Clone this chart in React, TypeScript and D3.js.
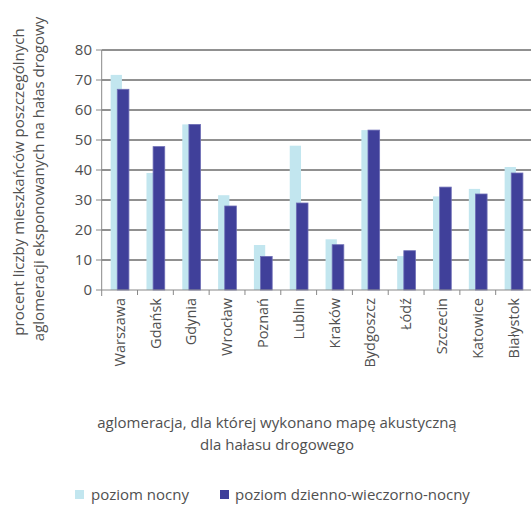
import React from 'react';
import * as d3 from 'd3';

const cities = ['Warszawa', 'Gdańsk', 'Gdynia', 'Wrocław', 'Poznań', 'Lublin', 'Kraków', 'Bydgoszcz', 'Łódź', 'Szczecin', 'Katowice', 'Białystok'];
const nightValues = [71.7, 39.0, 55.2, 31.6, 15.0, 48.1, 16.9, 53.3, 11.3, 31.2, 33.7, 41.0];
const denValues = [66.9, 47.8, 55.2, 28.0, 11.2, 29.0, 15.1, 53.3, 13.1, 34.3, 32.0, 39.0];
const yTicks = [0, 10, 20, 30, 40, 50, 60, 70, 80];

const W = 531;
const H = 505;
const font = '"Open Sans", "DejaVu Sans", sans-serif';
const lightColor = '#c2e6ef';
const darkColor = '#40409a';
const textColor = '#505050';

export default function App() {
  const x = d3.scaleBand<string>().domain(cities).range([101.7, 531.5]).padding(0);
  const y = d3.scaleLinear().domain([0, 80]).range([290, 50]);
  const bw = x.bandwidth();

  return (
    <svg width={W} height={H} style={{ position: 'absolute', left: 0, top: 0 }} fontFamily={font}>
      <rect width={W} height={H} fill="#fff" />

      {/* gridlines */}
      {yTicks.filter((t) => t > 0).map((t) => (
        <line key={t} x1={101.7} x2={W} y1={y(t)} y2={y(t)} stroke="#222" strokeWidth={1} />
      ))}

      {/* bars, night level sits behind */}
      {cities.map((c, i) => {
        const x0 = x(c)!;
        return (
          <g key={c}>
            <rect x={x0 + 0.25 * bw} width={0.315 * bw} y={y(nightValues[i])} height={y(0) - y(nightValues[i])} fill={lightColor} />
            <rect
              x={x0 + 0.435 * bw}
              width={0.325 * bw}
              y={y(denValues[i])}
              height={y(0) - y(denValues[i])}
              fill={darkColor}
              stroke="#6f6fb6"
              strokeWidth={0.8}
            />
          </g>
        );
      })}

      {/* axes */}
      <line x1={101.7} x2={W} y1={290} y2={290} stroke="#888" />
      <line x1={101.7} x2={101.7} y1={50} y2={296} stroke="#888" />
      {yTicks.map((t) => (
        <g key={t}>
          <line x1={96} x2={101.7} y1={y(t)} y2={y(t)} stroke="#888" />
          <text x={92} y={y(t)} dy="0.35em" textAnchor="end" fontSize={15} fill={textColor}>
            {t}
          </text>
        </g>
      ))}
      {cities.map((c) => (
        <g key={c}>
          <line x1={x(c)! + bw} x2={x(c)! + bw} y1={290} y2={295} stroke="#888" />
          <text
            transform={`translate(${x(c)! + bw / 2},298) rotate(-90)`}
            dy="0.35em"
            textAnchor="end"
            fontSize={14.5}
            fill={textColor}
          >
            {c}
          </text>
        </g>
      ))}

      {/* y title */}
      <text transform="translate(19,182) rotate(-90)" textAnchor="middle" dy="0.35em" fontSize={15} fill={textColor}>
        procent liczby mieszkańców poszczególnych
      </text>
      <text transform="translate(39,179) rotate(-90)" textAnchor="middle" dy="0.35em" fontSize={15} fill={textColor}>
        aglomeracji eksponowanych na hałas drogowy
      </text>

      {/* x title */}
      <text x={277} y={428} textAnchor="middle" fontSize={15} fill={textColor}>
        aglomeracja, dla której wykonano mapę akustyczną
      </text>
      <text x={277} y={450} textAnchor="middle" fontSize={15} fill={textColor}>
        dla hałasu drogowego
      </text>

      {/* legend */}
      <rect x={75} y={490} width={9} height={9} fill={lightColor} />
      <text x={91} y={500} fontSize={15} fill={textColor}>poziom nocny</text>
      <rect x={220} y={490} width={9} height={9} fill={darkColor} />
      <text x={235} y={500} fontSize={15} fill={textColor}>poziom dzienno-wieczorno-nocny</text>
    </svg>
  );
}
